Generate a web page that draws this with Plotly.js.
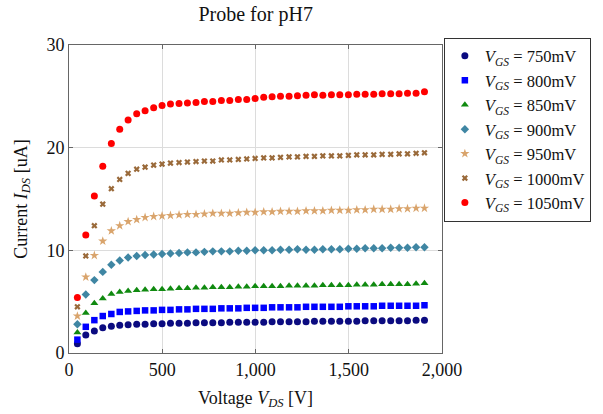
<!DOCTYPE html>
<html>
<head>
<meta charset="utf-8">
<script src="https://cdn.plot.ly/plotly-3.0.1.min.js"></script>
<style>html,body{margin:0;padding:0;background:#fff;}#chart{width:603px;height:414px;}</style>
</head>
<body>
<div id="chart"></div>
<script>
const vds = [45, 90, 136, 181, 227, 272, 317, 363, 408, 454, 499, 544, 590, 635, 681, 726, 771, 817, 862, 908, 953, 998, 1044, 1089, 1134, 1180, 1225, 1271, 1316, 1361, 1407, 1452, 1498, 1543, 1588, 1634, 1679, 1725, 1770, 1815, 1861, 1906];

const i750 = [0.9, 1.75, 2.15, 2.45, 2.6, 2.7, 2.75, 2.8, 2.8, 2.85, 2.85, 2.9, 2.9, 2.9, 2.95, 2.95, 2.95, 2.95, 3.0, 3.0, 3.0, 3.0, 3.0, 3.05, 3.05, 3.05, 3.05, 3.05, 3.1, 3.1, 3.1, 3.1, 3.1, 3.1, 3.15, 3.15, 3.15, 3.15, 3.15, 3.15, 3.2, 3.2];
const i800 = [1.3, 2.55, 3.2, 3.6, 3.8, 4.0, 4.05, 4.1, 4.15, 4.15, 4.2, 4.2, 4.25, 4.25, 4.3, 4.3, 4.3, 4.35, 4.35, 4.35, 4.4, 4.4, 4.4, 4.45, 4.45, 4.45, 4.45, 4.5, 4.5, 4.5, 4.5, 4.5, 4.55, 4.55, 4.55, 4.55, 4.6, 4.6, 4.6, 4.6, 4.6, 4.65];
const i850 = [2.0, 3.9, 4.85, 5.3, 5.75, 5.95, 6.05, 6.1, 6.15, 6.2, 6.2, 6.25, 6.3, 6.3, 6.35, 6.35, 6.4, 6.4, 6.4, 6.45, 6.45, 6.5, 6.5, 6.5, 6.5, 6.55, 6.55, 6.55, 6.55, 6.6, 6.6, 6.6, 6.6, 6.65, 6.65, 6.65, 6.7, 6.7, 6.7, 6.7, 6.75, 6.8];
const i900 = [2.8, 5.7, 7.1, 7.9, 8.6, 9.0, 9.3, 9.45, 9.55, 9.6, 9.65, 9.7, 9.75, 9.8, 9.8, 9.85, 9.9, 9.9, 9.9, 9.95, 9.95, 10.0, 10.0, 10.0, 10.05, 10.05, 10.1, 10.05, 10.05, 10.1, 10.1, 10.1, 10.15, 10.15, 10.2, 10.2, 10.2, 10.25, 10.25, 10.25, 10.3, 10.3];
const i950 = [3.6, 7.4, 9.5, 10.9, 11.9, 12.4, 12.8, 13.0, 13.2, 13.3, 13.35, 13.4, 13.45, 13.5, 13.5, 13.55, 13.6, 13.6, 13.6, 13.65, 13.7, 13.7, 13.75, 13.75, 13.8, 13.8, 13.8, 13.85, 13.85, 13.85, 13.9, 13.9, 13.9, 13.95, 13.95, 14.0, 14.0, 14.0, 14.05, 14.05, 14.1, 14.1];
const i1000 = [4.5, 9.45, 12.4, 14.5, 16.0, 16.9, 17.5, 17.9, 18.1, 18.3, 18.4, 18.5, 18.55, 18.6, 18.65, 18.7, 18.7, 18.8, 18.8, 18.85, 18.9, 18.95, 19.0, 19.0, 19.05, 19.1, 19.1, 19.15, 19.15, 19.2, 19.2, 19.2, 19.25, 19.3, 19.3, 19.3, 19.35, 19.35, 19.4, 19.4, 19.45, 19.5];
const i1050 = [5.4, 11.5, 15.3, 18.2, 20.4, 21.8, 22.7, 23.3, 23.6, 23.9, 24.1, 24.25, 24.3, 24.35, 24.4, 24.5, 24.5, 24.6, 24.6, 24.7, 24.7, 24.8, 24.9, 24.95, 25.0, 25.0, 25.05, 25.1, 25.15, 25.1, 25.15, 25.15, 25.15, 25.2, 25.2, 25.2, 25.25, 25.25, 25.25, 25.3, 25.3, 25.45];

const seriesNames = ['750mV', '800mV', '850mV', '900mV', '950mV', '1000mV', '1050mV'];
const seriesData = [i750, i800, i850, i900, i950, i1000, i1050];
const symbols = ['circle', 'square', 'triangle-up', 'diamond', 'star', 'x', 'circle'];
const colors = ['#0b0b80', '#0000ff', '#108a10', '#3f86a3', '#d9a46c', '#9a6a3a', '#ff0000'];
const sizes = [7, 6.5, 7, 6.5, 7, 5.5, 7];

const traces = seriesData.map((ys, k) => ({
  x: vds, y: ys, type: 'scatter', mode: 'markers',
  name: '<i>V</i><sub><i>GS</i></sub> = ' + seriesNames[k],
  marker: {symbol: symbols[k], color: colors[k], size: sizes[k], line: {width: 0}}
}));

const serif = 'Liberation Serif, Times New Roman, serif';
const layout = {
  width: 603, height: 414,
  margin: {l: 69, r: 161, t: 45, b: 61, autoexpand: false},
  paper_bgcolor: '#fff', plot_bgcolor: '#fff',
  font: {family: serif, size: 18, color: '#111'},
  title: {text: 'Probe for pH7', x: 0.424, xanchor: 'center', y: 0.966, yanchor: 'middle', font: {family: serif, size: 20, color: '#111'}},
  showlegend: true,
  legend: {x: 1.005, y: 1.024, xanchor: 'left', yanchor: 'top', bordercolor: '#333', borderwidth: 1, bgcolor: '#fff', font: {family: serif, size: 16.5}, itemwidth: 30, tracegroupgap: 0},
  xaxis: {
    range: [0, 2000], tickvals: [0, 500, 1000, 1500, 2000], tickformat: ',',
    showgrid: true, gridcolor: '#dcdcdc', zeroline: false,
    showline: true, linecolor: '#666', linewidth: 1, mirror: 'ticks',
    ticks: 'inside', ticklen: 4, tickcolor: '#666', automargin: false,
    tickfont: {family: serif, size: 18},
    title: {text: 'Voltage <i>V</i><sub><i>DS</i></sub> [V]', standoff: 12, font: {family: serif, size: 18}}
  },
  yaxis: {
    range: [0, 30], tickvals: [0, 10, 20, 30],
    showgrid: true, gridcolor: '#dcdcdc', zeroline: false,
    showline: true, linecolor: '#666', linewidth: 1, mirror: 'ticks',
    ticks: 'inside', ticklen: 4, tickcolor: '#666', automargin: false,
    tickfont: {family: serif, size: 18},
    title: {text: 'Current <i>I</i><sub><i>DS</i></sub> [uA]', standoff: 14, font: {family: serif, size: 18}}
  }
};

Plotly.newPlot('chart', traces, layout, {displayModeBar: false, staticPlot: true});
</script>
</body>
</html>
